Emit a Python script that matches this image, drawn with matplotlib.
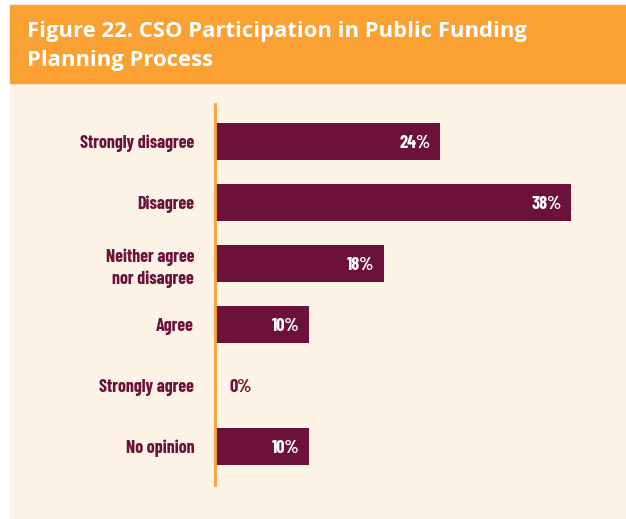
import matplotlib
matplotlib.use("Agg")
import matplotlib.pyplot as plt
from matplotlib.patches import Rectangle

categories = ["Strongly disagree", "Disagree", "Neither agree\nnor disagree",
              "Agree", "Strongly agree", "No opinion"]
values = [24, 38, 18, 10, 0, 10]

ORANGE = '#F9A133'
CREAM = '#FDF3E6'
BAR = '#6C1139'
LABEL = '#6C1139'
NARROW = ['Barlow Condensed', 'DejaVu Sans']
TITLE_FONT = ['Open Sans', 'DejaVu Sans']

W, H = 626, 519
fig = plt.figure(figsize=(W / 100, H / 100), dpi=100)
fig.patch.set_facecolor('white')

# background panels (figure pixel coords -> fractions)
fig.patches.append(Rectangle((10 / W, 0), 1, 1 - 83 / H, transform=fig.transFigure,
                             color=CREAM, zorder=-2))
fig.patches.append(Rectangle((10 / W, 1 - 83 / H), 1, (83 - 5) / H, transform=fig.transFigure,
                             color=ORANGE, zorder=-2))
fig.text(27 / W, 1 - 46 / H, 'Figure 22. CSO Participation in Public Funding\nPlanning Process',
         color='white', fontsize=15.8, fontweight='bold', family=TITLE_FONT,
         va='center', ha='left', linespacing=1.5)

ax = fig.add_axes([215 / W, 1 - 485 / H, 375 / W, 381 / H])
ax.set_facecolor('none')
ypos = list(range(len(categories)))
bars = ax.barh(ypos, values, height=0.607, color=BAR, zorder=2)
for b, v in zip(bars, values):
    if v == 0:
        b.set_edgecolor('#C8C0B8'); b.set_linewidth(1.2)
ax.set_xlim(0, 40)
ax.set_ylim(5.63, -0.615)

for y, v in zip(ypos, values):
    if v > 0:
        ax.text(v - 1.0, y + 0.03, f'{v}%', color='white', fontsize=13.3, fontweight='bold',
                family=NARROW, ha='right', va='center')
    else:
        ax.text(v + 1.5, y + 0.03, f'{v}%', color=LABEL, fontsize=13.3, fontweight='bold',
                family=NARROW, ha='left', va='center')

ax.set_yticks(ypos)
ax.set_yticklabels(categories, fontsize=13, fontweight='bold', color=LABEL,
                   family=NARROW, linespacing=1.4)
ax.tick_params(axis='y', length=0, pad=15)
ax.set_xticks([])
for s in ['top', 'right', 'bottom']:
    ax.spines[s].set_visible(False)
ax.spines['left'].set_color(ORANGE)
ax.spines['left'].set_linewidth(2)
ax.spines['left'].set_zorder(3)

fig.savefig('out.png', dpi=100)
